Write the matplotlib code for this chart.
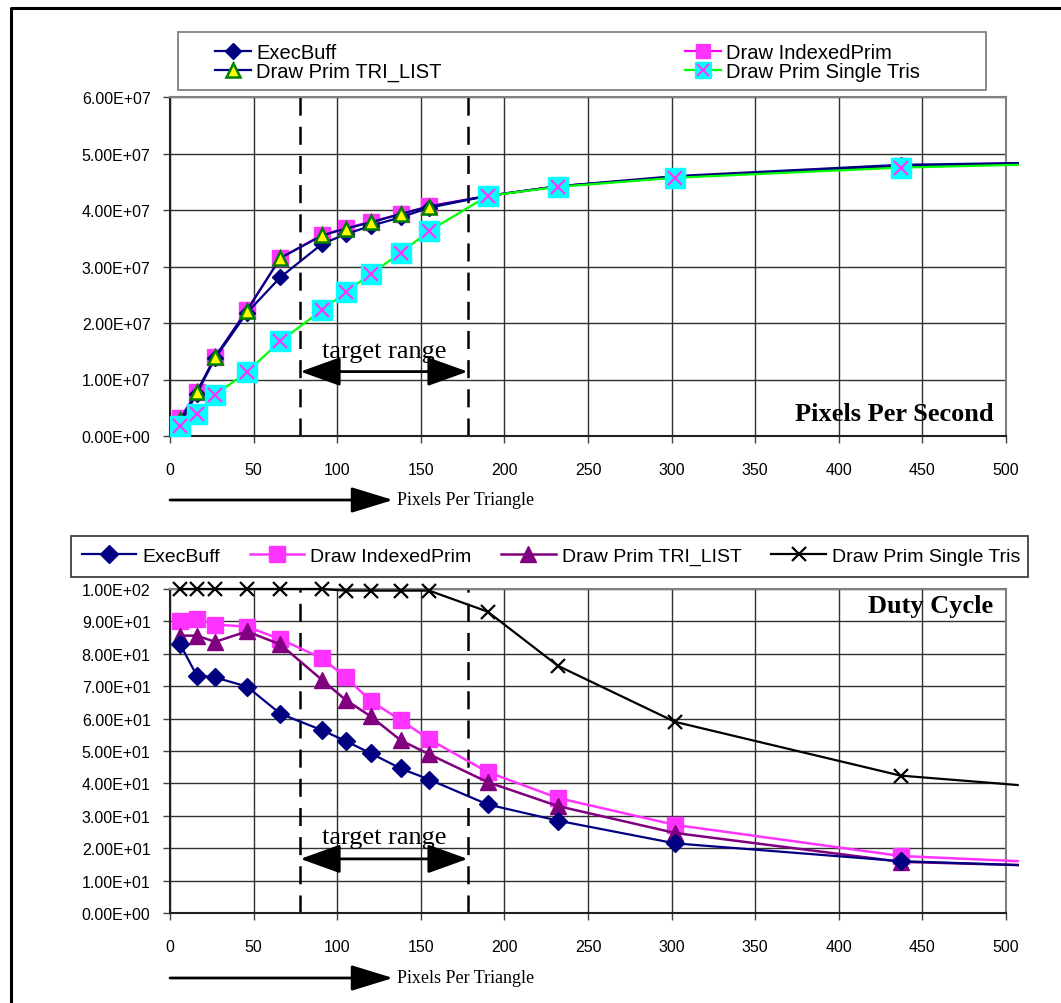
import matplotlib
matplotlib.use("Agg")
import matplotlib.pyplot as plt
from matplotlib.lines import Line2D
from matplotlib.patches import Rectangle, FancyArrowPatch
from matplotlib.legend_handler import HandlerTuple

plt.rcParams['font.family'] = ['Liberation Sans', 'DejaVu Sans']
plt.rcParams['lines.scale_dashes'] = False

# pixels per triangle (last value is where the lines run off the plot)
x_pts = [6, 16, 27, 46, 66, 91, 105, 120, 138, 155, 190, 232, 302, 437, 507]

# pixels per second (x 1e7)
exec_pps = [0.22, 0.75, 1.38, 2.18, 2.81, 3.40, 3.57, 3.72, 3.87, 4.04, 4.25, 4.42, 4.60, 4.80, 4.83]
indexed_pps = [0.32, 0.77, 1.40, 2.23, 3.15, 3.56, 3.68, 3.79, 3.93, 4.07, 4.25, 4.42, 4.58, 4.78, 4.83]
trilist_pps = [0.28, 0.78, 1.40, 2.22, 3.15, 3.55, 3.67, 3.78, 3.93, 4.06, 4.25, 4.42, 4.58, 4.78, 4.82]
single_pps = [0.18, 0.39, 0.73, 1.13, 1.68, 2.23, 2.54, 2.87, 3.24, 3.63, 4.25, 4.41, 4.57, 4.75, 4.80]

# duty cycle (%)
exec_duty = [83, 73.3, 72.7, 69.9, 61.5, 56.4, 53.1, 49.3, 44.6, 41.2, 33.5, 28.5, 21.5, 16, 14.8]
indexed_duty = [90, 90.8, 89, 88.4, 84.5, 78.6, 72.8, 65.5, 59.5, 53.6, 43.5, 35.5, 27.2, 17.6, 16]
trilist_duty = [85.6, 85.6, 83.7, 86.9, 82.9, 71.9, 65.8, 60.7, 53.3, 49, 40.4, 33, 24.7, 15.8, 14.8]
single_duty = [100, 100, 100, 100, 100, 100, 99.5, 99.5, 99.5, 99.5, 93, 76.3, 59, 42.4, 39.5]

labels_top = ['ExecBuff', 'Draw Prim TRI_LIST', 'Draw IndexedPrim', 'Draw Prim Single Tris']
labels_bottom = ['ExecBuff', 'Draw IndexedPrim', 'Draw Prim TRI_LIST', 'Draw Prim Single Tris']

x_ticks = list(range(0, 501, 50))
pps_ticks = [v * 1e7 for v in range(0, 7)]
duty_ticks = list(range(0, 101, 10))
target_lo, target_hi = 78, 178

W, H = 1061, 1004
fig = plt.figure(figsize=(W / 100, H / 100), dpi=100)

def px_box(l, t, r, b):
    return [l / W, 1 - b / H, (r - l) / W, (b - t) / H]

ax1 = fig.add_axes(px_box(170, 98, 1006, 437))
ax2 = fig.add_axes(px_box(170, 590, 1006, 914))

mk = slice(0, len(x_pts) - 1)
scaled = lambda arr: [v * 1e7 for v in arr]

# --- top chart
ax1.plot(x_pts, scaled(exec_pps), color='#000080', lw=1.6, marker='D', ms=8,
         mfc='#000080', mec='#000080', markevery=mk, clip_on=False, zorder=4)
ax1.plot(x_pts, scaled(indexed_pps), color='#ff00ff', lw=1.6, marker='s', ms=11,
         mfc='#ff33ff', mec='#ff33ff', markevery=mk, clip_on=False, zorder=3)
ax1.plot(x_pts, scaled(trilist_pps), color='#000080', lw=1.6, marker='^', ms=10,
         mfc='#ffff00', mec='#008000', mew=1.8, markevery=mk, clip_on=False, zorder=5)
ax1.plot(x_pts, scaled(single_pps), color='#00ff00', lw=1.6, marker='s', ms=14,
         mfc='#00ffff', mec='#00ffff', markevery=mk, clip_on=False, zorder=6)
ax1.plot(x_pts[:-1], scaled(single_pps)[:-1], ls='none', marker='x', ms=10,
         mec='#ff33ff', mew=1.6, clip_on=False, zorder=7)

h_exec = Line2D([], [], color='#000080', lw=1.6, marker='D', ms=8, mfc='#000080', mec='#000080')
h_idx = Line2D([], [], color='#ff00ff', lw=1.6, marker='s', ms=10, mfc='#ff33ff', mec='#ff33ff')
h_tri = Line2D([], [], color='#000080', lw=1.6, marker='^', ms=10, mfc='#ffff00', mec='#008000', mew=1.8)
h_sgl = Line2D([], [], color='#00ff00', lw=1.6, marker='s', ms=12, mfc='#00ffff', mec='#00ffff')
h_sglx = Line2D([], [], ls='none', marker='x', ms=9, mec='#ff33ff', mew=1.5)

fig.add_artist(Rectangle((178 / W, 1 - 91 / H), 808 / W, 58 / H, transform=fig.transFigure,
                         fill=False, edgecolor='#808080', lw=1.3))
fig.legend([h_exec, h_tri, h_idx, (h_sgl, h_sglx)], labels_top,
           handler_map={tuple: HandlerTuple(ndivide=1, pad=0)},
           ncol=2, loc='center', bbox_to_anchor=(215 / W, 1 - 73 / H, 705 / W, 20 / H),
           mode='expand', fontsize=14.5, frameon=False, borderpad=0, borderaxespad=0,
           handlelength=1.8, handletextpad=0.25, labelspacing=0.0)

ax1.set_xlim(0, 500)
ax1.set_ylim(0, 6e7)
ax1.set_yticks(pps_ticks)

ax1.text(0.985, 0.065, 'Pixels Per Second', transform=ax1.transAxes, ha='right', va='center',
         family='Liberation Serif', fontweight='bold', fontsize=19)

# --- bottom chart
lines2 = []
lines2 += ax2.plot(x_pts, exec_duty, color='#000080', lw=1.6, marker='D', ms=9.5,
                   mfc='#000080', mec='#000080', markevery=mk, clip_on=False, zorder=6)
lines2 += ax2.plot(x_pts, indexed_duty, color='#ff33ff', lw=1.8, marker='s', ms=11.5,
                   mfc='#ff33ff', mec='#ff33ff', markevery=mk, clip_on=False, zorder=4)
lines2 += ax2.plot(x_pts, trilist_duty, color='#800080', lw=1.8, marker='^', ms=11.5,
                   mfc='#800080', mec='#800080', markevery=mk, clip_on=False, zorder=5)
lines2 += ax2.plot(x_pts, single_duty, color='black', lw=1.6, marker='x', ms=10,
                   mec='black', mew=1.6, markevery=mk, clip_on=False, zorder=7)

fig.add_artist(Rectangle((71 / W, 1 - 578 / H), 957 / W, 41 / H, transform=fig.transFigure,
                         fill=False, edgecolor='#404040', lw=1.3))
fig.legend(handles=lines2, labels=labels_bottom, ncol=4, loc='center',
           bbox_to_anchor=(82 / W, 1 - 567 / H, 938 / W, 20 / H), mode='expand',
           fontsize=14, frameon=False, borderpad=0, borderaxespad=0,
           handlelength=2.8, handletextpad=0.3, columnspacing=1.0)

ax2.set_xlim(0, 500)
ax2.set_ylim(0, 100)
ax2.set_yticks(duty_ticks)

ax2.text(0.985, 0.95, 'Duty Cycle', transform=ax2.transAxes, ha='right', va='center',
         family='Liberation Serif', fontweight='bold', fontsize=19)

# shared styling, target range and the "Pixels Per Triangle" arrows
for ax, arrow_y, text_y in [(ax1, 1.14e7, 1.50e7), (ax2, 16.7, 23.5)]:
    ax.set_xticks(x_ticks)
    ax.yaxis.set_major_formatter(plt.FuncFormatter(lambda v, p: f'{v:.2E}'))
    ax.grid(True, color='#303030', lw=1.0)
    ax.set_axisbelow(True)
    ax.tick_params(direction='out', length=5, width=1, labelsize=11.5, color='#404040')
    ax.tick_params(axis='y', pad=9)
    ax.tick_params(axis='x', pad=14)
    for s in ['top', 'right']:
        ax.spines[s].set_color('#808080')
        ax.spines[s].set_linewidth(1.5)
    for s in ['left', 'bottom']:
        ax.spines[s].set_color('#202020')
        ax.spines[s].set_linewidth(1.5)
    for xv in (target_lo, target_hi):
        ax.axvline(xv, color='black', lw=1.8, dashes=(13, 8), zorder=2)
    ax.annotate('', xy=(target_lo, arrow_y), xytext=(target_hi, arrow_y),
                arrowprops=dict(arrowstyle='<|-|>,head_length=1.25,head_width=0.45',
                                color='black', lw=2, mutation_scale=20,
                                shrinkA=0, shrinkB=0), zorder=3)
    ax.text((target_lo + target_hi) / 2, text_y, 'target range', ha='center', va='center',
            family='Liberation Serif', fontsize=19)

for y_px in (501, 979):
    fig.add_artist(FancyArrowPatch(
        (170, H - y_px), (393, H - y_px), transform=None,
        arrowstyle='-|>,head_length=1.3,head_width=0.4', mutation_scale=20,
        color='black', lw=2, shrinkA=0, shrinkB=0))
    fig.text(397 / W, 1 - y_px / H, 'Pixels Per Triangle', ha='left', va='center',
             family='Liberation Serif', fontsize=13)

# outer chart frame (left and top edges)
fig.add_artist(Line2D([11 / W, 11 / W, 1.0], [0.0, 1 - 9 / H, 1 - 9 / H],
                      color='black', lw=2.2, transform=fig.transFigure))

fig.savefig('out.png', dpi=100)
